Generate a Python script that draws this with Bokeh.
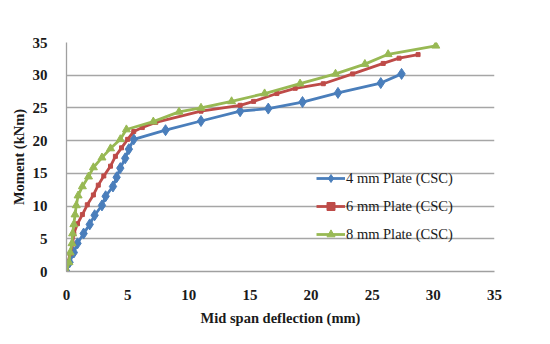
from bokeh.plotting import figure
from bokeh.models import Range1d, FixedTicker
from bokeh.embed import file_html
from bokeh.resources import INLINE

# ---- data ----
x4 = [0, 0.25, 0.6, 0.9, 1.4, 1.9, 2.3, 2.9, 3.2, 3.8, 4.1, 4.4, 4.8, 5.1, 5.5,
      8.1, 11.0, 14.2, 16.5, 19.3, 22.2, 25.7, 27.4]
y4 = [0, 1.4, 2.9, 4.3, 5.8, 7.2, 8.6, 10.1, 11.5, 13.0, 14.4, 15.8, 17.3, 18.7, 20.2,
      21.6, 23.0, 24.5, 24.9, 25.9, 27.3, 28.8, 30.2]

x6 = [0, 0.1, 0.3, 0.5, 0.6, 0.9, 1.3, 1.7, 2.2, 2.6, 3.05, 3.6, 4.0, 4.5, 5.0,
      5.5, 6.2, 7.3, 11.0, 14.2, 15.3, 17.2, 18.7, 21.0, 23.4, 25.9, 27.2, 28.75]
y6 = [0, 1.3, 2.7, 4.2, 5.8, 7.3, 8.7, 10.2, 11.7, 13.2, 14.6, 16.1, 17.6, 18.9, 20.2,
      21.4, 22.0, 22.8, 24.5, 25.4, 26.0, 27.2, 28.0, 28.7, 30.2, 31.8, 32.6, 33.15]

x8 = [0, 0.2, 0.3, 0.45, 0.5, 0.6, 0.7, 0.8, 0.95, 1.3, 1.8, 2.2, 2.9, 3.6, 4.4, 4.9,
      7.1, 9.2, 11.0, 13.5, 16.2, 19.1, 22.0, 24.4, 26.3, 30.2]
y8 = [0, 1.4, 2.9, 4.3, 5.8, 7.2, 8.7, 10.1, 11.6, 13.0, 14.5, 15.9, 17.4, 18.8, 20.2, 21.7,
      22.9, 24.4, 25.0, 26.0, 27.2, 28.7, 30.2, 31.7, 33.2, 34.5]

ticks = [0, 5, 10, 15, 20, 25, 30, 35]
labels = ["4 mm Plate (CSC)", "6 mm Plate (CSC)", "8 mm Plate (CSC)"]
x_title = "Mid span deflection (mm)"
y_title = "Moment (kNm)"

FONT = "Liberation Serif"
W, H = 534, 328

p = figure(width=W, height=H, output_backend="svg", toolbar_location=None,
           x_range=Range1d(0, 35), y_range=Range1d(0, 35),
           min_border_left=66, min_border_right=40, min_border_top=42,
           min_border_bottom=49)
p.outline_line_color = None
p.background_fill_color = "white"
p.border_fill_color = "white"

series = [
    (x4, y4, "#4A7EBB", "diamond", 11, labels[0]),
    (x6, y6, "#BE4B48", "square", 4, labels[1]),
    (x8, y8, "#98B954", "triangle", 8, labels[2]),
]
for xs, ys, col, mk, sz, lab in series:
    p.line(xs, ys, line_color=col, line_width=2.8, legend_label=lab)
    p.scatter(xs, ys, marker=mk, size=sz, fill_color=col, line_color=col,
              legend_label=lab)

for ax in (p.xaxis[0], p.yaxis[0]):
    ax.ticker = FixedTicker(ticks=ticks)
    ax.major_tick_line_color = None
    ax.minor_tick_line_color = None
    ax.axis_line_color = "#a0a0a0"
    ax.axis_line_width = 1.3
    ax.major_label_text_font = FONT
    ax.major_label_text_font_style = "bold"
    ax.major_label_text_font_size = "15px"
    ax.major_label_text_color = "#1a1a1a"
    ax.axis_label_text_font = FONT
    ax.axis_label_text_font_style = "bold"
    ax.axis_label_text_font_size = "14.5px"
    ax.axis_label_text_color = "#1a1a1a"

p.xaxis.axis_label = x_title
p.yaxis.axis_label = y_title
p.xaxis.major_label_standoff = 12
p.yaxis.major_label_standoff = 13
p.xaxis.axis_label_standoff = 7
p.yaxis.axis_label_standoff = 3

p.xgrid.visible = False
p.ygrid.grid_line_color = "#a6a6a6"
p.ygrid.grid_line_width = 1.3

lg = p.legend[0]
lg.location = (250, 27)
lg.padding = 0
lg.margin = 0
lg.border_line_color = None
lg.background_fill_alpha = 0
lg.label_text_font = FONT
lg.label_text_font_size = "14.5px"
lg.label_text_color = "#1a1a1a"
lg.glyph_width = 29
lg.glyph_height = 20
lg.label_height = 20
lg.spacing = 8
lg.label_standoff = 1

open("out.html", "w").write(file_html(p, INLINE))
